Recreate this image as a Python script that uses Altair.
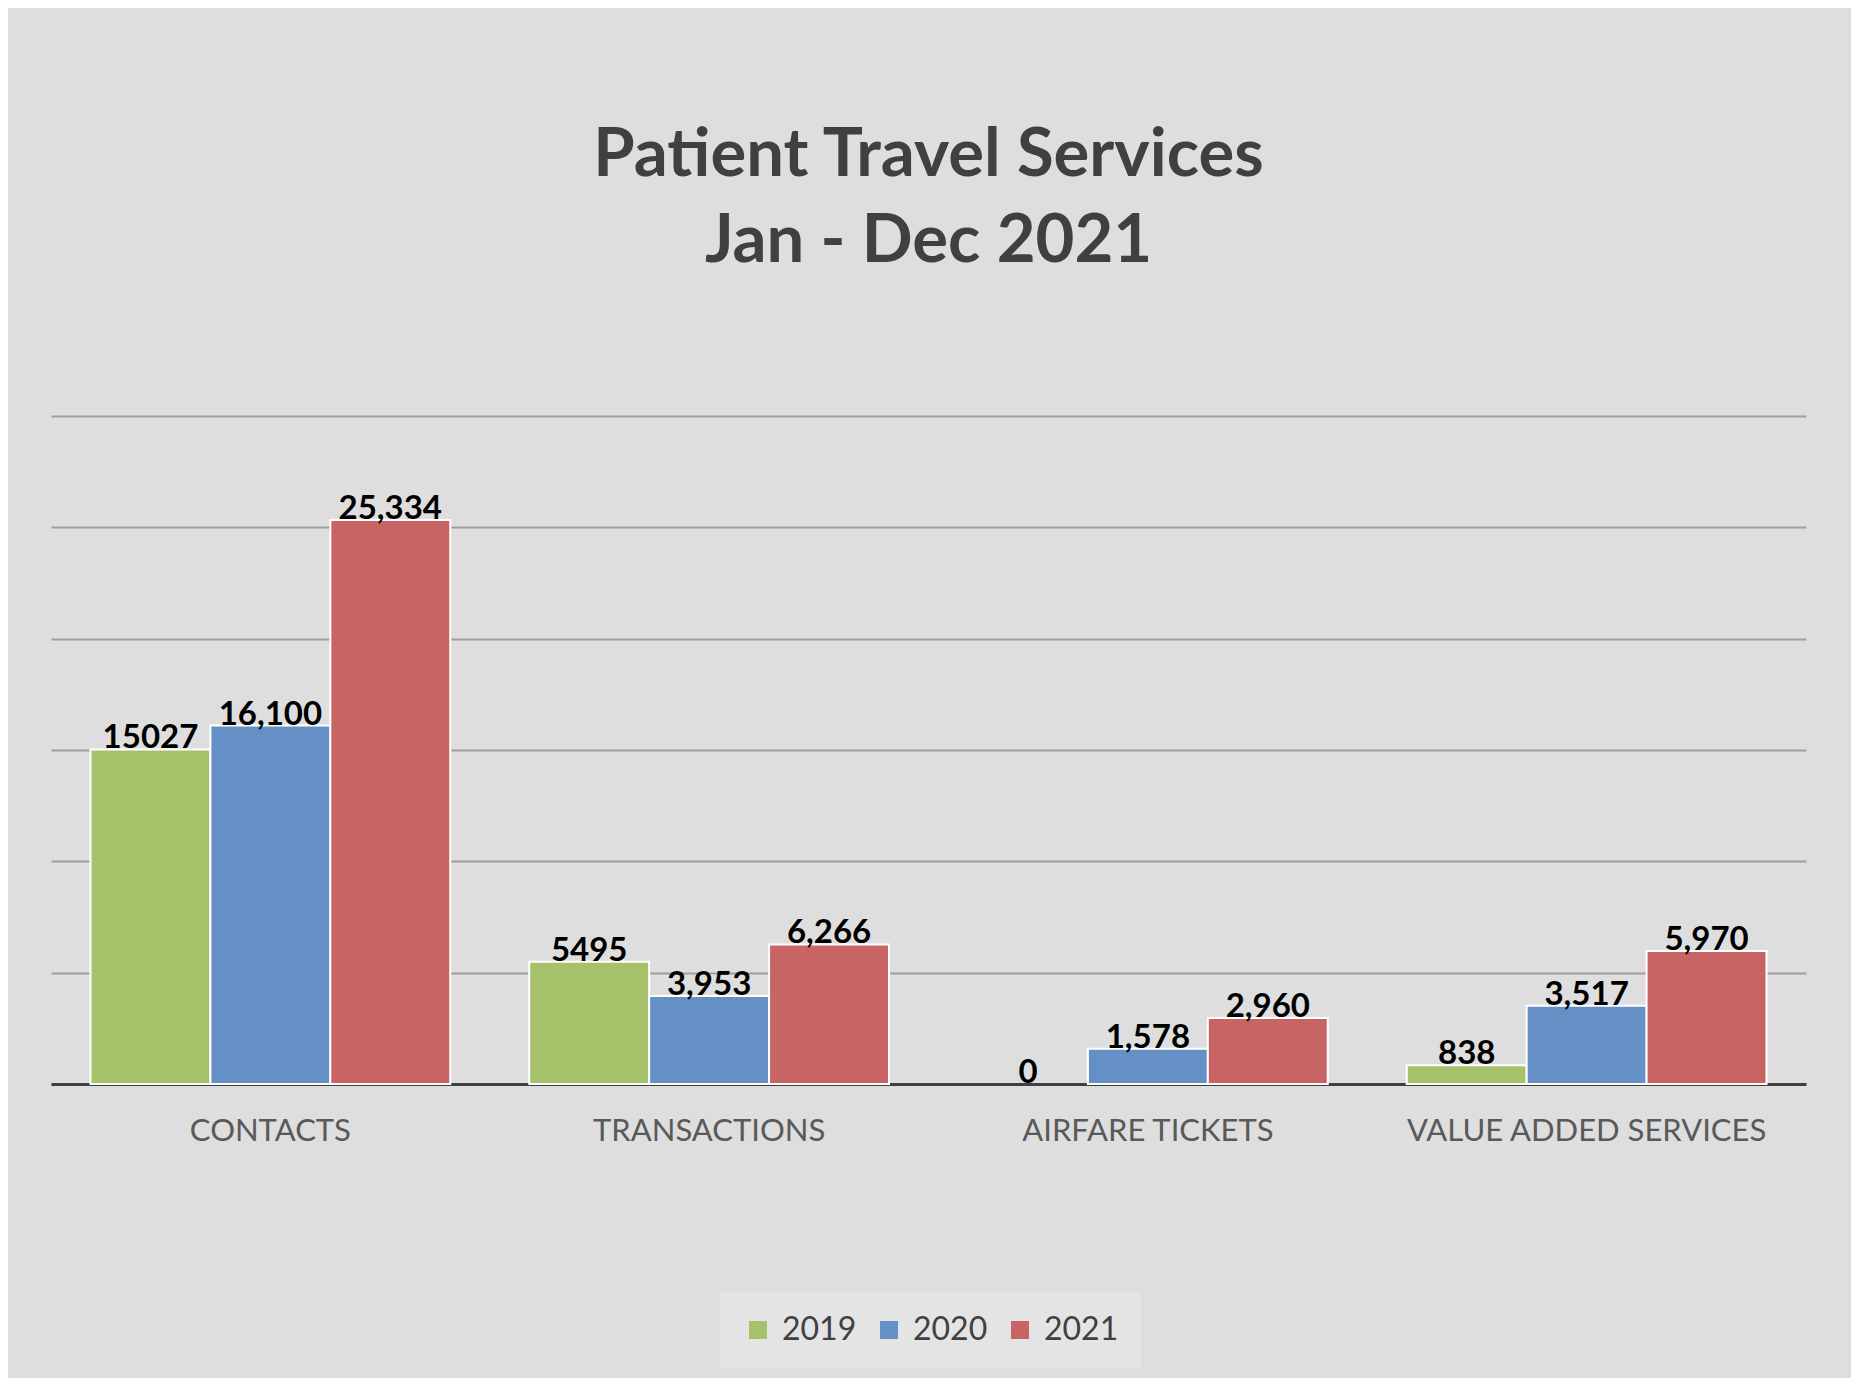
import altair as alt
import pandas as pd

# Values
categories = ["CONTACTS", "TRANSACTIONS", "AIRFARE TICKETS", "VALUE ADDED SERVICES"]
years = ["2019", "2020", "2021"]
values_2019 = [15027, 5495, 0, 838]
values_2020 = [16100, 3953, 1578, 3517]
values_2021 = [25334, 6266, 2960, 5970]
grid_values = [0, 5000, 10000, 15000, 20000, 25000, 30000]
colors = ["#a5c26a", "#6590c6", "#c86464"]

rows = []
for year, vals in zip(years, [values_2019, values_2020, values_2021]):
    for cat, v in zip(categories, vals):
        # 2019 labels appear without thousands separators in the original
        label = str(v) if year == "2019" else f"{v:,}"
        rows.append({"category": cat, "year": year, "value": v, "label": label})
df = pd.DataFrame(rows)

base = alt.Chart(df).encode(
    x=alt.X("category:N", sort=categories, title=None,
            scale=alt.Scale(paddingInner=0.18, paddingOuter=0.09),
            axis=alt.Axis(labelAngle=0, ticks=False, grid=False,
                          domainColor="#404040", domainWidth=3,
                          labelFont="Lato", labelFontSize=31, labelLimit=0,
                          labelColor="#595959", labelPadding=32)),
    xOffset=alt.XOffset("year:N", sort=years,
                        scale=alt.Scale(paddingInner=0, paddingOuter=0)),
    y=alt.Y("value:Q", title=None,
            scale=alt.Scale(domain=[0, 30000], nice=False),
            axis=alt.Axis(values=grid_values, labels=False, ticks=False,
                          domain=False, grid=True, gridColor="#9e9e9e",
                          gridWidth=2)),
)

bars = base.mark_bar(strokeWidth=2).encode(
    color=alt.Color("year:N", sort=years,
                    scale=alt.Scale(domain=years, range=colors),
                    legend=alt.Legend(title=None, orient="none",
                                      direction="horizontal",
                                      legendX=669, legendY=876,
                                      fillColor="#e4e4e4", padding=22,
                                      symbolType="square", symbolSize=324,
                                      symbolStrokeWidth=0,
                                      labelFont="Lato", labelFontSize=32,
                                      labelColor="#404040", labelOffset=8,
                                      columnPadding=16)),
    stroke=alt.condition(alt.datum.value > 0, alt.value("white"),
                         alt.value("transparent")),
)

text = base.mark_text(font="Lato", fontSize=33, fontWeight="bold",
                      color="black", baseline="middle", dy=-11).encode(
    text="label:N",
)

chart = (bars + text).properties(
    width=1755,
    height=668,
    autosize="none",
    padding={"left": 43, "top": 408, "right": 45, "bottom": 294},
    background="#dedede",
    title=alt.TitleParams(
        ["Patient Travel Services", "Jan - Dec 2021"],
        font="Lato", fontSize=67, fontWeight="bold", color="#404040",
        lineHeight=86, anchor="middle", offset=140,
    ),
).configure_view(
    strokeWidth=0,
)

chart.save("out.html", embed_options={"renderer": "svg", "actions": False})
